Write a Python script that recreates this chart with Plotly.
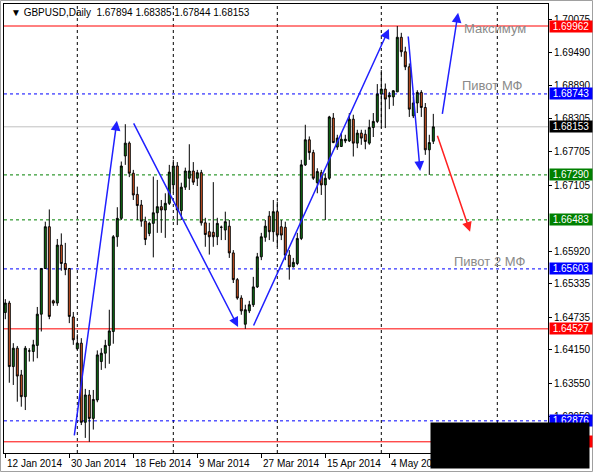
import plotly.graph_objects as go

# GBPUSD daily bars (one bar per trading day, Sunday bars included)
opens = [
    1.6482, 1.6499, 1.6385, 1.6418, 1.6370, 1.6331, 1.6413, 1.6412, 1.6423, 1.6479,
    1.6561, 1.6636, 1.6503, 1.6499, 1.6603, 1.6570, 1.6561, 1.6474, 1.6417, 1.6427,
    1.6285, 1.6334, 1.6292, 1.6325, 1.6394, 1.6409, 1.6423, 1.6448, 1.6618, 1.6651,
    1.6763, 1.6786, 1.6732, 1.6694, 1.6675, 1.6646, 1.6624, 1.6642, 1.6661, 1.6672,
    1.6666, 1.6678, 1.6711, 1.6745, 1.6665, 1.6707, 1.6723, 1.6736, 1.6723, 1.6733,
    1.6643, 1.6627, 1.6626, 1.6618, 1.6635, 1.6630, 1.6637, 1.6589, 1.6541, 1.6508,
    1.6461, 1.6485, 1.6496, 1.6528, 1.6582, 1.6617, 1.6655, 1.6627, 1.6663, 1.6636,
    1.6635, 1.6585, 1.6564, 1.6570, 1.6615, 1.6747, 1.6792, 1.6769, 1.6715, 1.6733,
    1.6711, 1.6723, 1.6831, 1.6779, 1.6780, 1.6790, 1.6790, 1.6829, 1.6786, 1.6804,
    1.6802, 1.6786, 1.6814, 1.6825, 1.6874, 1.6883, 1.6869, 1.6869, 1.6878, 1.6976,
    1.6950, 1.6923, 1.6835, 1.6858, 1.6877, 1.6850, 1.6774, 1.67894,
]
highs = [
    1.6506, 1.6503, 1.6427, 1.6422, 1.6379, 1.6422, 1.6418, 1.6433, 1.6492, 1.6562,
    1.6645, 1.6667, 1.6505, 1.6614, 1.6624, 1.6607, 1.6562, 1.6483, 1.6443, 1.6436,
    1.6345, 1.6343, 1.6343, 1.6414, 1.6418, 1.6433, 1.6487, 1.6621, 1.6671, 1.6753,
    1.6820, 1.6789, 1.6738, 1.6708, 1.6684, 1.6654, 1.6645, 1.6726, 1.6720, 1.6684,
    1.6696, 1.6747, 1.6756, 1.6752, 1.6715, 1.6742, 1.6784, 1.6752, 1.6738, 1.6738,
    1.6652, 1.6643, 1.6716, 1.6652, 1.6638, 1.6663, 1.6648, 1.6594, 1.6544, 1.6513,
    1.6496, 1.6503, 1.6546, 1.6589, 1.6625, 1.6648, 1.6664, 1.6684, 1.6681, 1.6648,
    1.6645, 1.6594, 1.6580, 1.6625, 1.6756, 1.6819, 1.6798, 1.6774, 1.6741, 1.6738,
    1.6732, 1.6835, 1.6840, 1.6801, 1.6804, 1.6801, 1.6840, 1.6837, 1.6810, 1.6810,
    1.6810, 1.6828, 1.6840, 1.6892, 1.6917, 1.6893, 1.6878, 1.6881, 1.69962, 1.6984,
    1.6959, 1.6929, 1.6869, 1.6881, 1.6881, 1.6858, 1.6801, 1.68385,
]
lows = [
    1.6470, 1.6356, 1.6352, 1.6322, 1.6313, 1.6307, 1.6394, 1.6394, 1.6400, 1.6448,
    1.6560, 1.6470, 1.6494, 1.6494, 1.6557, 1.6549, 1.6463, 1.6424, 1.6415, 1.6280,
    1.6257, 1.6250, 1.6272, 1.6321, 1.6379, 1.6382, 1.6390, 1.6426, 1.6600, 1.6648,
    1.6747, 1.6725, 1.6684, 1.6648, 1.6636, 1.6603, 1.6619, 1.6581, 1.6625, 1.6625,
    1.6616, 1.6675, 1.6697, 1.6639, 1.6648, 1.6702, 1.6702, 1.6711, 1.6709, 1.6638,
    1.6600, 1.6586, 1.6600, 1.6603, 1.6612, 1.6612, 1.6580, 1.6535, 1.6505, 1.6478,
    1.64527, 1.6481, 1.6492, 1.6526, 1.6576, 1.6609, 1.6612, 1.6609, 1.6600, 1.6612,
    1.6576, 1.6541, 1.6563, 1.6567, 1.6612, 1.6745, 1.6756, 1.6720, 1.6696, 1.6693,
    1.6648, 1.6720, 1.6786, 1.6774, 1.6779, 1.6786, 1.6788, 1.6762, 1.6777, 1.6783,
    1.6775, 1.6783, 1.6797, 1.6822, 1.6813, 1.6813, 1.6847, 1.6853, 1.6878, 1.6941,
    1.6917, 1.6833, 1.6831, 1.6840, 1.6833, 1.6765, 1.67290, 1.67844,
]
closes = [
    1.6499, 1.6385, 1.6418, 1.6368, 1.6331, 1.6418, 1.6413, 1.6424, 1.6479, 1.6561,
    1.6636, 1.6475, 1.6499, 1.6603, 1.6570, 1.6559, 1.6475, 1.6433, 1.6427, 1.6285,
    1.6334, 1.6292, 1.6326, 1.6406, 1.6409, 1.6423, 1.6449, 1.6618, 1.6651, 1.6745,
    1.6786, 1.6732, 1.6693, 1.6674, 1.6646, 1.6613, 1.6642, 1.6661, 1.6672, 1.6666,
    1.6678, 1.6734, 1.6745, 1.6666, 1.6707, 1.6736, 1.6736, 1.6716, 1.6733, 1.6643,
    1.6622, 1.6618, 1.6618, 1.6642, 1.6635, 1.6645, 1.6589, 1.6541, 1.6508, 1.6485,
    1.6487, 1.6496, 1.6528, 1.6582, 1.6618, 1.6637, 1.6627, 1.6663, 1.6621, 1.6621,
    1.6585, 1.6564, 1.6572, 1.6615, 1.6747, 1.6792, 1.6769, 1.6723, 1.6735, 1.6711,
    1.6723, 1.6833, 1.6787, 1.6795, 1.6793, 1.6793, 1.6829, 1.6786, 1.6804, 1.6795,
    1.6789, 1.6814, 1.6825, 1.6874, 1.6883, 1.6865, 1.6872, 1.6880, 1.6976, 1.6950,
    1.6923, 1.6847, 1.6858, 1.6877, 1.6850, 1.6774, 1.6787, 1.68153,
]

date_ticks = [0, 16, 32, 48, 64, 80, 96]
date_labels = ["12 Jan 2014", "30 Jan 2014", "18 Feb 2014", "9 Mar 2014",
               "27 Mar 2014", "15 Apr 2014", "4 May 2014"]
# 1.66520 sits fully behind the 1.66483 tag in the original, so it is left out
price_ticks = [1.70075, 1.69490, 1.68890, 1.68305, 1.67705, 1.67105,
               1.65920, 1.65335, 1.64735, 1.64150, 1.63550, 1.62950]
month_bars = [18, 42, 68, 94, 123]

# horizontal levels: price, colour, dash
levels = [
    (1.69962, "#ff0000", "solid"),
    (1.68743, "#0000ff", "3px,3px"),
    (1.68153, "#c0c0c0", "solid"),
    (1.67290, "#008000", "3px,3px"),
    (1.66483, "#008000", "3px,3px"),
    (1.65603, "#0000ff", "3px,3px"),
    (1.64527, "#ff0000", "solid"),
    (1.62876, "#0000ff", "3px,3px"),
    (1.62500, "#ff0000", "solid"),
]
tag_colors = {"#c0c0c0": "#000000"}

# arrows: (bar_from, price_from, bar_to, price_to, colour)
arrows = [
    (17.2, 1.6259, 27.9, 1.6826, "#2020ff"),
    (31.9, 1.6824, 58.2, 1.6456, "#2020ff"),
    (61.9, 1.6456, 95.9, 1.6991, "#2020ff"),
    (100.7, 1.6980, 103.7, 1.6736, "#2020ff"),
    (109.2, 1.6836, 113.2, 1.7020, "#2020ff"),
    (107.9, 1.6802, 116.2, 1.6627, "#ff2020"),
]
notes = [
    (114.2, 1.6991, "Максимум"),
    (113.7, 1.6890, "Пивот МФ"),
    (111.7, 1.6573, "Пивот 2 МФ"),
]

FONT = "Liberation Sans"
W, H = 593, 472
ML, MR, MT, MB = 4, 45, 4, 19
PW, PH = W - ML - MR, H - MT - MB


def px_x(px):
    return (px - ML) / PW


def px_y(py):
    return (H - MB - py) / PH


bars = list(range(len(opens)))
fig = go.Figure(
    go.Candlestick(
        x=bars, open=opens, high=highs, low=lows, close=closes,
        increasing=dict(line=dict(color="black", width=1), fillcolor="#0f7a16"),
        decreasing=dict(line=dict(color="black", width=1), fillcolor="#e35d26"),
        whiskerwidth=0, hoverinfo="skip", showlegend=False,
    )
)

shapes = []
for b in month_bars:
    shapes.append(dict(type="line", xref="x", yref="paper", x0=b, x1=b, y0=0, y1=1,
                       line=dict(color="black", width=1, dash="3px,3px"), layer="below"))
for p, c, d in levels:
    shapes.append(dict(type="line", xref="paper", yref="y", x0=0, x1=1, y0=p, y1=p,
                       line=dict(color=c, width=1, dash=d), layer="below"))
# outer window frame
shapes.append(dict(type="rect", xref="paper", yref="paper",
                   x0=px_x(0.5), x1=px_x(592.5), y0=px_y(471.5), y1=px_y(0.5),
                   line=dict(color="#a0a0a0", width=1)))

annotations = []
for x0, y0, x1, y1, c in arrows:
    annotations.append(dict(x=x1, y=y1, ax=x0, ay=y0, xref="x", yref="y",
                            axref="x", ayref="y", text="", showarrow=True,
                            arrowhead=2, arrowsize=1.3, arrowwidth=1.5,
                            arrowcolor=c, standoff=0))
for x, y, t in notes:
    annotations.append(dict(x=x, y=y, xref="x", yref="y", text=t, showarrow=False,
                            xanchor="left", yanchor="middle",
                            font=dict(family=FONT, size=13, color="#8a8a8a")))
for b, t in zip(date_ticks, date_labels):
    annotations.append(dict(x=b, y=0, xref="x", yref="paper", text=t, showarrow=False,
                            xanchor="left", yanchor="top", xshift=0, yshift=-3,
                            font=dict(family=FONT, size=10, color="black")))
for p, c, d in levels:
    annotations.append(dict(x=1, y=p, xref="paper", yref="y", text=f"{p:.5f}",
                            showarrow=False, xanchor="left", yanchor="middle",
                            xshift=1, width=42, height=11, borderpad=0,
                            bgcolor=tag_colors.get(c, c),
                            font=dict(family=FONT, size=10, color="white")))
annotations.append(dict(x=px_x(9), y=px_y(12), xref="paper", yref="paper",
                        text="▼ GBPUSD,Daily\u00a0 1.67894 1.68385 1.67844 1.68153",
                        showarrow=False, xanchor="left", yanchor="middle",
                        font=dict(family=FONT, size=10, color="black")))
# black box over the lower right corner
annotations.append(dict(x=px_x(430), y=px_y(422), xref="paper", yref="paper",
                        text=" ", showarrow=False, xanchor="left", yanchor="top",
                        width=158, height=45, bgcolor="black", borderpad=0))

fig.update_layout(
    width=W, height=H,
    margin=dict(l=ML, r=MR, t=MT, b=MB, pad=0),
    paper_bgcolor="white", plot_bgcolor="white",
    font=dict(family=FONT, size=10, color="black"),
    shapes=shapes, annotations=annotations,
    xaxis=dict(range=[-0.325, 135.675], showgrid=False, zeroline=False,
               tickvals=date_ticks, showticklabels=False, ticks="outside",
               ticklen=4, tickcolor="black", showline=True, linecolor="black",
               mirror=True, rangeslider=dict(visible=False), fixedrange=True),
    yaxis=dict(range=[1.62299, 1.70357], side="right", showgrid=False,
               zeroline=False, tickvals=price_ticks,
               ticktext=[f"{v:.5f}" for v in price_ticks], ticks="outside",
               ticklen=3, tickcolor="black", showline=True, linecolor="black",
               mirror=True, fixedrange=True, automargin=False),
)

fig.write_html("out.html", config=dict(displayModeBar=False),
               post_script="document.body.style.margin='0';")
